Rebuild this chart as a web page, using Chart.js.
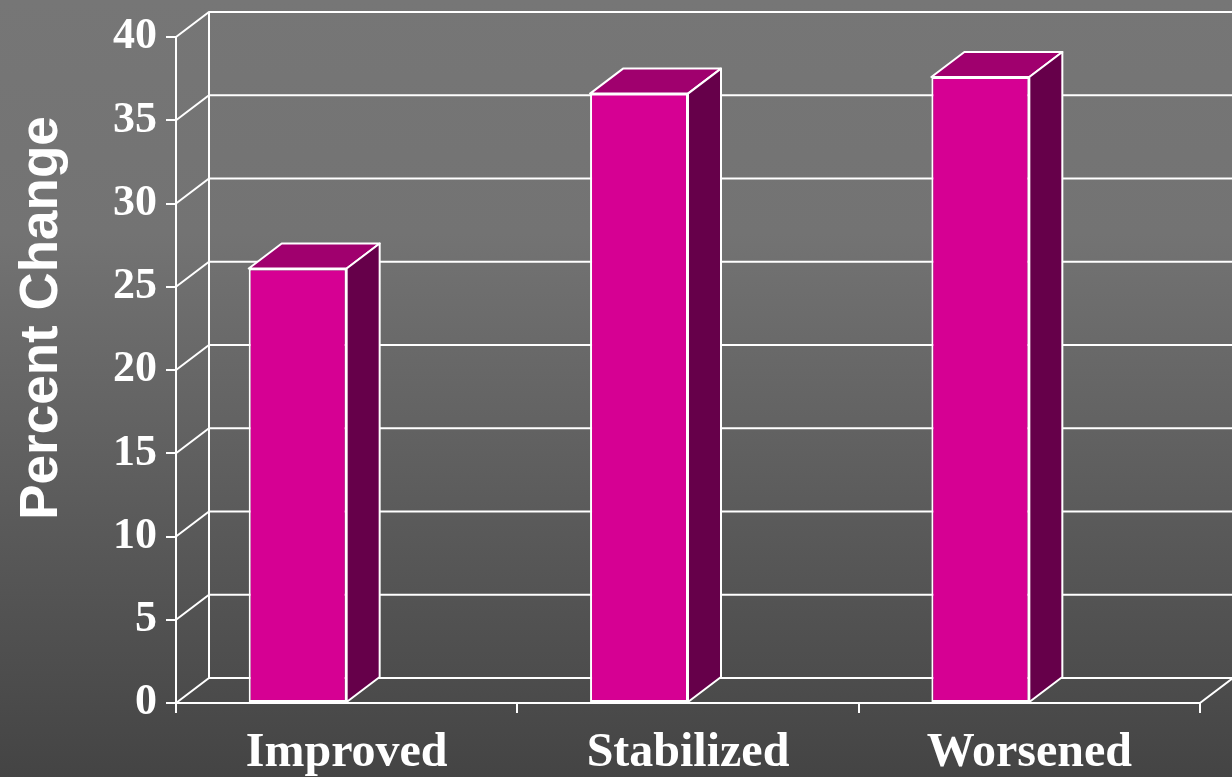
<!DOCTYPE html>
<html>
<head>
<meta charset="utf-8">
<script src="https://cdn.jsdelivr.net/npm/chart.js@4/dist/chart.umd.min.js"></script>
<style>
  html, body { margin: 0; padding: 0; background: #444; }
  canvas { display: block; }
</style>
</head>
<body>
<canvas id="chart" width="1232" height="777"></canvas>
<script>
// data
const categories = ["Improved", "Stabilized", "Worsened"];
const percentChange = [26.1, 36.6, 37.6];
const yTicks = [0, 5, 10, 15, 20, 25, 30, 35, 40];

// 3d depth offset
const DX = 33;
const DY = -25;

const FRONT = "#D60093";
const TOP = "#A0006E";
const SIDE = "#66004A";

// gray gradient behind everything
const background = {
  id: "background",
  beforeDraw(chart) {
    const { ctx, width, height } = chart;
    const g = ctx.createLinearGradient(0, 0, 0, height);
    g.addColorStop(0, "#767676");
    g.addColorStop(0.3, "#737373");
    g.addColorStop(1, "#444444");
    ctx.save();
    ctx.fillStyle = g;
    ctx.fillRect(0, 0, width, height);
    ctx.restore();
  }
};

// back wall, side wall and floor lines
const walls = {
  id: "walls",
  beforeDatasetsDraw(chart) {
    const { ctx } = chart;
    const x = chart.scales.x, y = chart.scales.y;
    const left = x.left, right = x.right;
    ctx.save();
    ctx.strokeStyle = "#fff";
    ctx.lineWidth = 2;
    ctx.beginPath();
    yTicks.forEach(v => {
      const py = y.getPixelForValue(v);
      ctx.moveTo(left, py);
      ctx.lineTo(left + DX, py + DY);
      ctx.lineTo(right + DX + 2, py + DY);
    });
    // back-left vertical edge
    ctx.moveTo(left + DX, y.getPixelForValue(0) + DY);
    ctx.lineTo(left + DX, y.getPixelForValue(40) + DY);
    // floor right edge
    const base = y.getPixelForValue(0);
    ctx.moveTo(right, base);
    ctx.lineTo(right + DX, base + DY);
    ctx.stroke();
    ctx.restore();
  }
};

// top and side faces of each bar
const prism = {
  id: "prism",
  afterDatasetsUpdate(chart) {
    // Excel-style placement: bar sits left of the category centre
    chart.getDatasetMeta(0).data.forEach(bar => {
      bar.x = bar.x - bar.width / 2;
    });
  },
  afterDatasetsDraw(chart) {
    const { ctx } = chart;
    ctx.save();
    ctx.strokeStyle = "#fff";
    ctx.lineWidth = 2;
    ctx.lineJoin = "round";
    chart.getDatasetMeta(0).data.forEach(bar => {
      const xl = bar.x - bar.width / 2;
      const xr = bar.x + bar.width / 2;
      const yt = bar.y;
      const yb = bar.base;

      ctx.beginPath();
      ctx.moveTo(xl, yt);
      ctx.lineTo(xl + DX, yt + DY);
      ctx.lineTo(xr + DX, yt + DY);
      ctx.lineTo(xr, yt);
      ctx.closePath();
      ctx.fillStyle = TOP;
      ctx.fill();
      ctx.stroke();

      ctx.beginPath();
      ctx.moveTo(xr, yt);
      ctx.lineTo(xr + DX, yt + DY);
      ctx.lineTo(xr + DX, yb + DY);
      ctx.lineTo(xr, yb);
      ctx.closePath();
      ctx.fillStyle = SIDE;
      ctx.fill();
      ctx.stroke();
    });
    ctx.restore();
  }
};

// axis title, placed as in the original
const yTitle = {
  id: "yTitle",
  afterDraw(chart) {
    const { ctx } = chart;
    ctx.save();
    ctx.translate(42, 318);
    ctx.rotate(-Math.PI / 2);
    ctx.fillStyle = "#fff";
    ctx.font = "bold 53px 'Liberation Sans', Arial, sans-serif";
    ctx.textAlign = "center";
    ctx.textBaseline = "middle";
    ctx.fillText("Percent Change", 0, 0);
    ctx.restore();
  }
};

new Chart(document.getElementById("chart"), {
  type: "bar",
  data: {
    labels: categories,
    datasets: [{
      data: percentChange,
      backgroundColor: FRONT,
      borderColor: "#fff",
      borderWidth: 2,
      borderSkipped: false,
      categoryPercentage: 1,
      barPercentage: 0.287
    }]
  },
  options: {
    responsive: false,
    animation: false,
    devicePixelRatio: 1,
    layout: { padding: { top: 37, right: 32, left: 0, bottom: 0 } },
    plugins: {
      legend: { display: false },
      tooltip: { enabled: false }
    },
    scales: {
      x: {
        afterFit: s => { s.height = 74; },
        grid: {
          drawOnChartArea: false,
          color: "#fff",
          lineWidth: 2,
          tickLength: 10
        },
        border: { display: true, color: "#fff", width: 2 },
        ticks: {
          color: "#fff",
          padding: 12,
          font: { family: "'Liberation Serif', 'Times New Roman', serif", size: 48, weight: "bold" }
        }
      },
      y: {
        min: 0,
        max: 40,
        afterFit: s => { s.width = 176; },
        afterBuildTicks: s => { s.ticks = yTicks.map(v => ({ value: v })); },
        grid: {
          drawOnChartArea: false,
          color: "#fff",
          lineWidth: 2,
          tickLength: 10
        },
        border: { display: true, color: "#fff", width: 2 },
        ticks: {
          color: "#fff",
          padding: 9,
          font: { family: "'Liberation Serif', 'Times New Roman', serif", size: 44, weight: "bold" }
        }
      }
    }
  },
  plugins: [background, walls, prism, yTitle]
});
</script>
</body>
</html>
